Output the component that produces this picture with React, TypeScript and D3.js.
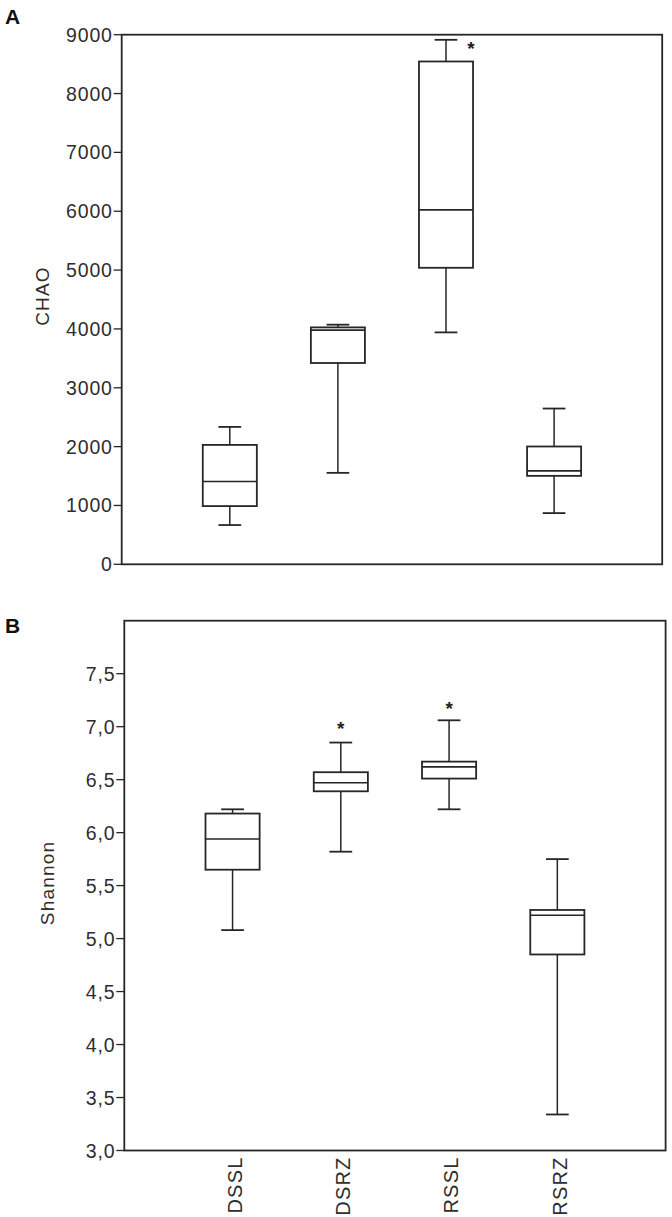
import React from "react";
import * as d3 from "d3";

const categories = ["DSSL", "DSRZ", "RSSL", "RSRZ"];

// Panel A: CHAO
const chaoMin = [667, 1554, 3941, 870];
const chaoQ1 = [989, 3421, 5039, 1503];
const chaoMedian = [1408, 3980, 6023, 1588];
const chaoQ3 = [2029, 4026, 8545, 2002];
const chaoMax = [2335, 4072, 8913, 2647];
const chaoExtremeCat = ["RSSL"];
const chaoExtremeVal = [8822];
const chaoTicks = [0, 1000, 2000, 3000, 4000, 5000, 6000, 7000, 8000, 9000];

// Panel B: Shannon
const shanMin = [5.08, 5.82, 6.22, 3.34];
const shanQ1 = [5.65, 6.39, 6.51, 4.85];
const shanMedian = [5.94, 6.47, 6.62, 5.22];
const shanQ3 = [6.18, 6.57, 6.67, 5.27];
const shanMax = [6.22, 6.85, 7.06, 5.75];
const shanExtremeCat = ["DSRZ", "RSSL"];
const shanExtremeVal = [7.02, 7.2];
const shanTicks = [3.0, 3.5, 4.0, 4.5, 5.0, 5.5, 6.0, 6.5, 7.0, 7.5];

const W = 672;
const H = 1217;
const FONT = "'Liberation Sans', Arial, Helvetica, sans-serif";
const INK = "#262626";
const TXT = "#2e2e2e";

const commaFmt = d3.formatLocale({ decimal: ",", thousands: ".", grouping: [3], currency: ["", ""] }).format(".1f");

type PanelProps = {
  x0: number; x1: number; y0: number; y1: number;
  domain: [number, number];
  ticks: number[];
  fmt: (v: number) => string;
  mins: number[]; q1s: number[]; meds: number[]; q3s: number[]; maxs: number[];
  extCats: string[]; extVals: number[]; extDx: number;
  title: string; titleX: number; titleY: number;
  letter: string; letterY: number;
  showX: boolean;
};

function Panel(p: PanelProps) {
  const x = d3.scaleLinear().domain([0, categories.length + 1]).range([p.x0, p.x1]);
  const y = d3.scaleLinear().domain(p.domain).range([p.y1, p.y0]);
  const band = x(1) - x(0);
  const boxW = band * 0.5;
  const capW = band * 0.21;
  return (
    <g>
      <text x={5} y={p.letterY} fontFamily={FONT} fontWeight="bold" fontSize={21} fill="#111">{p.letter}</text>
      <rect x={p.x0} y={p.y0} width={p.x1 - p.x0} height={p.y1 - p.y0} fill="none" stroke={INK} strokeWidth={1.8} />
      {p.ticks.map((t) => (
        <g key={t}>
          <line x1={p.x0 - 8} x2={p.x0} y1={y(t)} y2={y(t)} stroke={INK} strokeWidth={1.3} />
          <text x={p.x0 - 9} y={y(t)} dy="0.36em" textAnchor="end" fontFamily={FONT} fontSize={19.5} letterSpacing={0.8} fill={TXT}>{p.fmt(t)}</text>
        </g>
      ))}
      <text transform={`translate(${p.titleX},${p.titleY}) rotate(-90)`} textAnchor="middle" fontFamily={FONT} fontSize={19} letterSpacing={1.2} fill={TXT}>{p.title}</text>
      {categories.map((c, i) => {
        const cx = x(i + 1);
        return (
          <g key={c} stroke={INK} strokeWidth={1.5} fill="none">
            <line x1={cx} x2={cx} y1={y(p.maxs[i])} y2={y(p.q3s[i])} />
            <line x1={cx} x2={cx} y1={y(p.q1s[i])} y2={y(p.mins[i])} />
            <line x1={cx - capW / 2} x2={cx + capW / 2} y1={y(p.maxs[i])} y2={y(p.maxs[i])} strokeWidth={1.8} />
            <line x1={cx - capW / 2} x2={cx + capW / 2} y1={y(p.mins[i])} y2={y(p.mins[i])} strokeWidth={1.8} />
            <rect x={cx - boxW / 2} y={y(p.q3s[i])} width={boxW} height={y(p.q1s[i]) - y(p.q3s[i])} fill="#fff" strokeWidth={1.8} />
            <line x1={cx - boxW / 2} x2={cx + boxW / 2} y1={y(p.meds[i])} y2={y(p.meds[i])} strokeWidth={1.6} />
          </g>
        );
      })}
      {p.extCats.map((c, j) => {
        const i = categories.indexOf(c);
        return (
          <text key={c} x={x(i + 1) + p.extDx} y={y(p.extVals[j])} dy="10" textAnchor="middle" fontFamily={FONT} fontWeight="bold" fontSize={19} fill="#222">*</text>
        );
      })}
      {p.showX && categories.map((c, i) => (
        <text key={c} transform={`translate(${x(i + 1) + 2},${p.y1 + 6}) rotate(-90)`} textAnchor="end" dy="0.36em" fontFamily={FONT} fontSize={20} letterSpacing={1.2} fill={TXT}>{c}</text>
      ))}
    </g>
  );
}

export default function App() {
  return (
    <svg width={W} height={H} viewBox={`0 0 ${W} ${H}`} style={{ position: "absolute", left: 0, top: 0, background: "#fff" }}>
      <rect x={0} y={0} width={W} height={H} fill="#fff" />
      <Panel
        x0={121.7} x1={662.2} y0={34.7} y1={564.3}
        domain={[0, 9000]} ticks={chaoTicks} fmt={(v) => String(v)}
        mins={chaoMin} q1s={chaoQ1} meds={chaoMedian} q3s={chaoQ3} maxs={chaoMax}
        extCats={chaoExtremeCat} extVals={chaoExtremeVal} extDx={25}
        title="CHAO" titleX={49} titleY={296}
        letter="A" letterY={24} showX={false}
      />
      <Panel
        x0={124.3} x1={665.6} y0={620.7} y1={1150.5}
        domain={[3, 8]} ticks={shanTicks} fmt={(v) => commaFmt(v)}
        mins={shanMin} q1s={shanQ1} meds={shanMedian} q3s={shanQ3} maxs={shanMax}
        extCats={shanExtremeCat} extVals={shanExtremeVal} extDx={0}
        title="Shannon" titleX={54} titleY={883}
        letter="B" letterY={633} showX={true}
      />
    </svg>
  );
}
